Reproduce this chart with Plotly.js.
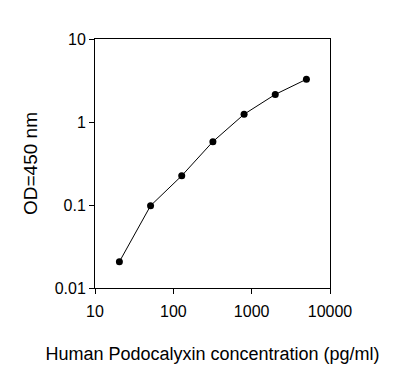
<!DOCTYPE html>
<html>
<head>
<meta charset="utf-8">
<script src="https://cdn.plot.ly/plotly-3.0.1.min.js"></script>
<style>html,body{margin:0;padding:0;background:#fff;}#chart{width:406px;height:379px;}</style>
</head>
<body>
<div id="chart"></div>
<script>
const concentration = [20.48, 51.2, 128, 320, 800, 2000, 5000];
const od450 = [0.0207, 0.098, 0.225, 0.58, 1.24, 2.15, 3.27];
const xTickVals = [10, 100, 1000, 10000];
const xTickText = ["10", "100", "1000", "10000"];
const yTickVals = [0.01, 0.1, 1, 10];
const yTickText = ["0.01", "0.1", "1", "10"];
const xTitle = "Human Podocalyxin concentration (pg/ml)";
const yTitle = "OD=450 nm";

const font = "Liberation Sans, Arial, sans-serif";
const trace = {
  x: concentration, y: od450, type: "scatter", mode: "lines+markers",
  line: {color: "#000", width: 1},
  marker: {color: "#000", size: 7, symbol: "circle"},
  hoverinfo: "skip"
};
const layout = {
  width: 406, height: 379,
  margin: {l: 95, r: 76, t: 39, b: 91},
  paper_bgcolor: "#fff", plot_bgcolor: "#fff",
  showlegend: false,
  font: {family: font, color: "#000", size: 16},
  xaxis: {
    type: "log", range: [1, 4],
    tickvals: xTickVals, ticktext: xTickText,
    ticks: "outside", ticklen: 5, tickwidth: 1, tickcolor: "#000",
    ticklabelstandoff: 4,
    showline: true, linecolor: "#000", linewidth: 1, mirror: true,
    showgrid: false, zeroline: false,
    tickfont: {family: font, size: 16, color: "#000"},
    title: {text: xTitle, font: {family: font, size: 18, color: "#000"}, standoff: 28},
    automargin: false
  },
  yaxis: {
    type: "log", range: [-2, 1],
    tickvals: yTickVals, ticktext: yTickText,
    ticks: "outside", ticklen: 5, tickwidth: 1, tickcolor: "#000",
    showline: true, linecolor: "#000", linewidth: 1, mirror: true,
    showgrid: false, zeroline: false,
    tickfont: {family: font, size: 16, color: "#000"},
    title: {text: yTitle, font: {family: font, size: 19, color: "#000"}, standoff: 12},
    automargin: false
  }
};
Plotly.newPlot("chart", [trace], layout, {displayModeBar: false, staticPlot: true});
</script>
</body>
</html>
